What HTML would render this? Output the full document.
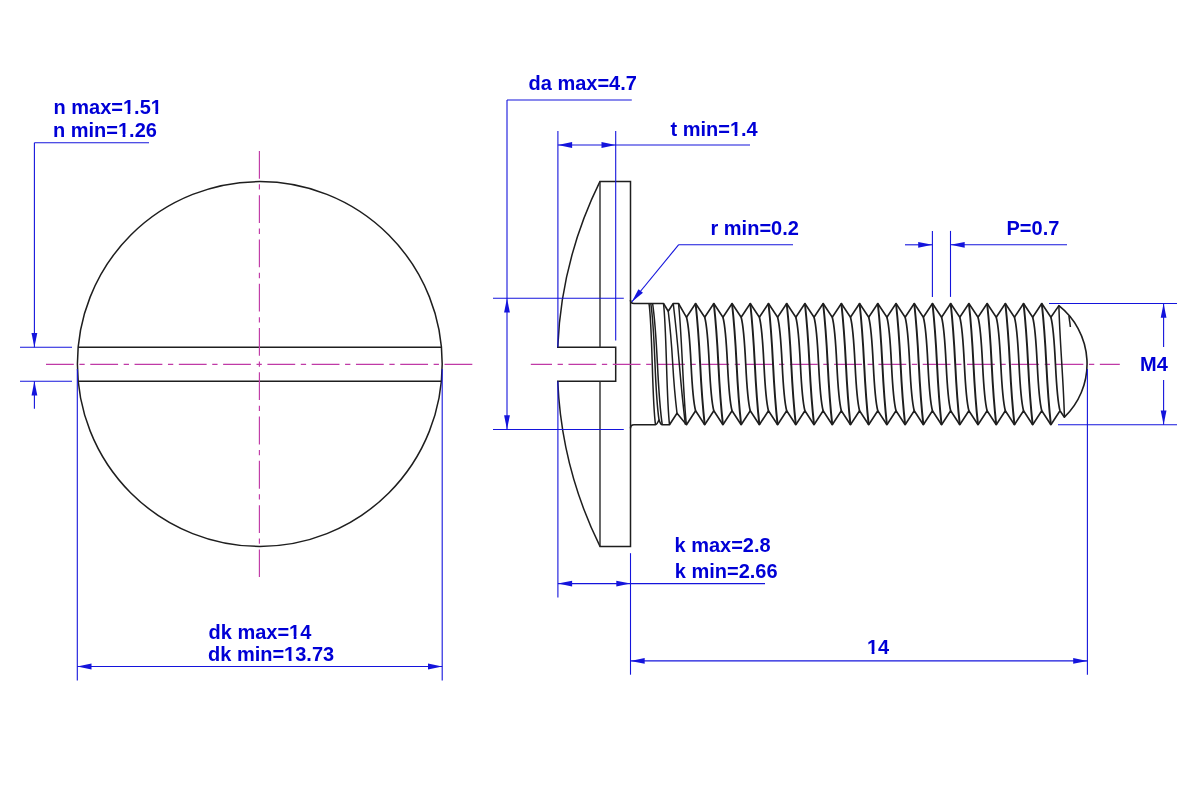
<!DOCTYPE html>
<html><head><meta charset="utf-8"><style>
html,body{margin:0;padding:0;background:#fff;width:1200px;height:800px;overflow:hidden}
svg{display:block;will-change:transform}
text{font-family:"Liberation Sans",sans-serif;font-weight:bold;font-size:20.8px;fill:#0000d6}
</style></head><body>
<svg width="1200" height="800" viewBox="0 0 1200 800">
<rect width="1200" height="800" fill="#fff"/>
<circle cx="259.8" cy="364.0" r="182.4" fill="none" stroke="#1e1e1e" stroke-width="1.5"/>
<line x1="78.18" y1="347.20" x2="441.42" y2="347.20" stroke="#1e1e1e" stroke-width="1.5" />
<line x1="78.22" y1="381.30" x2="441.38" y2="381.30" stroke="#1e1e1e" stroke-width="1.5" />
<line x1="46.00" y1="364.40" x2="472.80" y2="364.40" stroke="#c03aa6" stroke-width="1.15" stroke-dasharray="27.8 5.6 5.3 5.58" stroke-dashoffset="0.00"/>
<line x1="259.40" y1="150.90" x2="259.40" y2="577.10" stroke="#c03aa6" stroke-width="1.15" stroke-dasharray="27.8 5.6 5.3 5.58" stroke-dashoffset="0.00"/>
<line x1="20.00" y1="347.20" x2="72.00" y2="347.20" stroke="#1414dc" stroke-width="1.1" />
<line x1="20.00" y1="381.30" x2="72.00" y2="381.30" stroke="#1414dc" stroke-width="1.1" />
<line x1="34.40" y1="142.80" x2="34.40" y2="347.20" stroke="#1414dc" stroke-width="1.1" />
<path d="M34.40,347.20 L31.50,333.00 L37.30,333.00 Z" fill="#1414dc"/>
<line x1="34.40" y1="381.30" x2="34.40" y2="408.80" stroke="#1414dc" stroke-width="1.1" />
<path d="M34.40,381.30 L37.30,395.50 L31.50,395.50 Z" fill="#1414dc"/>
<line x1="34.40" y1="142.80" x2="149.00" y2="142.80" stroke="#1414dc" stroke-width="1.1" />
<g transform="translate(53.50,113.70) scale(0.962,1)"><text class="t" x="0" y="0" text-anchor="start">n max=1.51</text><rect x="72.60" y="-2.39" width="4.42" height="3.33" fill="#fff"/><rect x="79.88" y="-2.39" width="4.26" height="3.33" fill="#fff"/><rect x="101.49" y="-2.39" width="4.42" height="3.33" fill="#fff"/><rect x="108.77" y="-2.39" width="4.26" height="3.33" fill="#fff"/></g>
<g transform="translate(53.00,136.50) scale(0.962,1)"><text class="t" x="0" y="0" text-anchor="start">n min=1.26</text><rect x="67.95" y="-2.39" width="4.42" height="3.33" fill="#fff"/><rect x="75.23" y="-2.39" width="4.26" height="3.33" fill="#fff"/></g>
<line x1="77.30" y1="369.00" x2="77.30" y2="680.50" stroke="#1414dc" stroke-width="1.1" />
<line x1="442.20" y1="369.00" x2="442.20" y2="680.50" stroke="#1414dc" stroke-width="1.1" />
<line x1="77.30" y1="666.50" x2="442.20" y2="666.50" stroke="#1414dc" stroke-width="1.1" />
<path d="M77.30,666.50 L91.50,663.60 L91.50,669.40 Z" fill="#1414dc"/>
<path d="M442.20,666.50 L428.00,669.40 L428.00,663.60 Z" fill="#1414dc"/>
<g transform="translate(208.50,638.50) scale(0.962,1)"><text class="t" x="0" y="0" text-anchor="start">dk max=14</text><rect x="84.16" y="-2.39" width="4.42" height="3.33" fill="#fff"/><rect x="91.44" y="-2.39" width="4.26" height="3.33" fill="#fff"/></g>
<g transform="translate(208.00,661.30) scale(0.962,1)"><text class="t" x="0" y="0" text-anchor="start">dk min=13.73</text><rect x="79.51" y="-2.39" width="4.42" height="3.33" fill="#fff"/><rect x="86.79" y="-2.39" width="4.26" height="3.33" fill="#fff"/></g>
<path d="M600.00,181.4 L630.5,181.4 L630.5,546.4 L600.00,546.4 A412.2,412.2 0 0 1 557.76,381.3 L615.7,381.3 L615.7,347.2 L557.74,347.2 A412.2,412.2 0 0 1 600.00,181.4 Z" fill="none" stroke="#1e1e1e" stroke-width="1.5" stroke-linejoin="miter"/>
<line x1="600.00" y1="181.40" x2="600.00" y2="347.20" stroke="#2a2a2a" stroke-width="1.4" />
<line x1="600.00" y1="381.30" x2="600.00" y2="546.40" stroke="#2a2a2a" stroke-width="1.4" />
<line x1="530.80" y1="364.40" x2="1119.80" y2="364.40" stroke="#c03aa6" stroke-width="1.15" stroke-dasharray="27.8 5.6 5.3 5.58" stroke-dashoffset="6.60"/>
<path d="M630.5,300.0 Q630.5,303.5 634.0,303.5 L663.5,303.5 L668.25,311.25 L673.25,303.5 L678.5,303.5 L686.49,317.3 L695.60,303.5 L704.71,317.3 L713.82,303.5 L722.93,317.3 L732.04,303.5 L741.15,317.3 L750.26,303.5 L759.37,317.3 L768.48,303.5 L777.59,317.3 L786.70,303.5 L795.81,317.3 L804.92,303.5 L814.03,317.3 L823.14,303.5 L832.25,317.3 L841.36,303.5 L850.47,317.3 L859.58,303.5 L868.69,317.3 L877.80,303.5 L886.91,317.3 L896.02,303.5 L905.13,317.3 L914.24,303.5 L923.35,317.3 L932.46,303.5 L941.57,317.3 L950.68,303.5 L959.79,317.3 L968.90,303.5 L978.01,317.3 L987.12,303.5 L996.23,317.3 L1005.34,303.5 L1014.45,317.3 L1023.56,303.5 L1032.67,317.3 L1041.78,303.5 L1050.89,317.3 L1058.9,305.6 A74.25,74.25 0 0 1 1064.4,417.2 L1060.00,410.7 " fill="none" stroke="#1e1e1e" stroke-width="1.6" stroke-linejoin="round"/>
<path d="M630.5,428.2 Q630.5,424.7 634.0,424.7 L655.5,424.7 Q657,424.7 659,419.75 Q660.5,424.7 662.25,424.7 L669.5,424.7 L677.0,413.25 L686.49,424.7 L695.60,410.7 L704.71,424.7 L713.82,410.7 L722.93,424.7 L732.04,410.7 L741.15,424.7 L750.26,410.7 L759.37,424.7 L768.48,410.7 L777.59,424.7 L786.70,410.7 L795.81,424.7 L804.92,410.7 L814.03,424.7 L823.14,410.7 L832.25,424.7 L841.36,410.7 L850.47,424.7 L859.58,410.7 L868.69,424.7 L877.80,410.7 L886.91,424.7 L896.02,410.7 L905.13,424.7 L914.24,410.7 L923.35,424.7 L932.46,410.7 L941.57,424.7 L950.68,410.7 L959.79,424.7 L968.90,410.7 L978.01,424.7 L987.12,410.7 L996.23,424.7 L1005.34,410.7 L1014.45,424.7 L1023.56,410.7 L1032.67,424.7 L1041.78,410.7 L1050.89,424.7 L1060.00,410.7 " fill="none" stroke="#1e1e1e" stroke-width="1.6" stroke-linejoin="round"/>
<path d="M649.00,303.50 C652.58,327.37 651.92,400.83 655.50,424.70" fill="none" stroke="#1e1e1e" stroke-width="1.5"/>
<path d="M650.80,303.50 C655.64,335.77 654.16,387.48 659.00,419.75" fill="none" stroke="#1e1e1e" stroke-width="1.5"/>
<path d="M652.60,303.50 C657.99,339.40 656.87,388.80 662.25,424.70" fill="none" stroke="#1e1e1e" stroke-width="1.5"/>
<path d="M663.50,303.50 C666.65,329.77 666.35,398.43 669.50,424.70" fill="none" stroke="#1e1e1e" stroke-width="1.5"/>
<path d="M668.25,311.25 C673.76,357.15 671.49,367.35 677.00,413.25" fill="none" stroke="#1e1e1e" stroke-width="1.5"/>
<path d="M673.25,303.50 C679.79,358.04 678.86,370.16 685.40,424.70" fill="none" stroke="#1e1e1e" stroke-width="1.5"/>
<path d="M678.50,303.50 C681.65,329.79 683.25,398.41 686.40,424.70" fill="none" stroke="#1e1e1e" stroke-width="1.5"/>
<path d="M686.49,317.30 C691.90,336.60 690.19,391.40 695.60,410.70" fill="none" stroke="#1e1e1e" stroke-width="1.7"/>
<path d="M695.60,303.50 C701.19,354.33 699.12,373.87 704.71,424.70" fill="none" stroke="#1e1e1e" stroke-width="1.95"/>
<path d="M704.71,317.30 C710.12,336.60 708.41,391.40 713.82,410.70" fill="none" stroke="#1e1e1e" stroke-width="1.7"/>
<path d="M713.82,303.50 C719.41,354.33 717.34,373.87 722.93,424.70" fill="none" stroke="#1e1e1e" stroke-width="1.95"/>
<path d="M722.93,317.30 C728.34,336.60 726.63,391.40 732.04,410.70" fill="none" stroke="#1e1e1e" stroke-width="1.7"/>
<path d="M732.04,303.50 C737.63,354.33 735.56,373.87 741.15,424.70" fill="none" stroke="#1e1e1e" stroke-width="1.95"/>
<path d="M741.15,317.30 C746.56,336.60 744.85,391.40 750.26,410.70" fill="none" stroke="#1e1e1e" stroke-width="1.7"/>
<path d="M750.26,303.50 C755.85,354.33 753.78,373.87 759.37,424.70" fill="none" stroke="#1e1e1e" stroke-width="1.95"/>
<path d="M759.37,317.30 C764.78,336.60 763.07,391.40 768.48,410.70" fill="none" stroke="#1e1e1e" stroke-width="1.7"/>
<path d="M768.48,303.50 C774.07,354.33 772.00,373.87 777.59,424.70" fill="none" stroke="#1e1e1e" stroke-width="1.95"/>
<path d="M777.59,317.30 C783.00,336.60 781.29,391.40 786.70,410.70" fill="none" stroke="#1e1e1e" stroke-width="1.7"/>
<path d="M786.70,303.50 C792.29,354.33 790.22,373.87 795.81,424.70" fill="none" stroke="#1e1e1e" stroke-width="1.95"/>
<path d="M795.81,317.30 C801.22,336.60 799.51,391.40 804.92,410.70" fill="none" stroke="#1e1e1e" stroke-width="1.7"/>
<path d="M804.92,303.50 C810.51,354.33 808.44,373.87 814.03,424.70" fill="none" stroke="#1e1e1e" stroke-width="1.95"/>
<path d="M814.03,317.30 C819.44,336.60 817.73,391.40 823.14,410.70" fill="none" stroke="#1e1e1e" stroke-width="1.7"/>
<path d="M823.14,303.50 C828.73,354.33 826.66,373.87 832.25,424.70" fill="none" stroke="#1e1e1e" stroke-width="1.95"/>
<path d="M832.25,317.30 C837.66,336.60 835.95,391.40 841.36,410.70" fill="none" stroke="#1e1e1e" stroke-width="1.7"/>
<path d="M841.36,303.50 C846.95,354.33 844.88,373.87 850.47,424.70" fill="none" stroke="#1e1e1e" stroke-width="1.95"/>
<path d="M850.47,317.30 C855.88,336.60 854.17,391.40 859.58,410.70" fill="none" stroke="#1e1e1e" stroke-width="1.7"/>
<path d="M859.58,303.50 C865.17,354.33 863.10,373.87 868.69,424.70" fill="none" stroke="#1e1e1e" stroke-width="1.95"/>
<path d="M868.69,317.30 C874.10,336.60 872.39,391.40 877.80,410.70" fill="none" stroke="#1e1e1e" stroke-width="1.7"/>
<path d="M877.80,303.50 C883.39,354.33 881.32,373.87 886.91,424.70" fill="none" stroke="#1e1e1e" stroke-width="1.95"/>
<path d="M886.91,317.30 C892.32,336.60 890.61,391.40 896.02,410.70" fill="none" stroke="#1e1e1e" stroke-width="1.7"/>
<path d="M896.02,303.50 C901.61,354.33 899.54,373.87 905.13,424.70" fill="none" stroke="#1e1e1e" stroke-width="1.95"/>
<path d="M905.13,317.30 C910.54,336.60 908.83,391.40 914.24,410.70" fill="none" stroke="#1e1e1e" stroke-width="1.7"/>
<path d="M914.24,303.50 C919.83,354.33 917.76,373.87 923.35,424.70" fill="none" stroke="#1e1e1e" stroke-width="1.95"/>
<path d="M923.35,317.30 C928.76,336.60 927.05,391.40 932.46,410.70" fill="none" stroke="#1e1e1e" stroke-width="1.7"/>
<path d="M932.46,303.50 C938.05,354.33 935.98,373.87 941.57,424.70" fill="none" stroke="#1e1e1e" stroke-width="1.95"/>
<path d="M941.57,317.30 C946.98,336.60 945.27,391.40 950.68,410.70" fill="none" stroke="#1e1e1e" stroke-width="1.7"/>
<path d="M950.68,303.50 C956.27,354.33 954.20,373.87 959.79,424.70" fill="none" stroke="#1e1e1e" stroke-width="1.95"/>
<path d="M959.79,317.30 C965.20,336.60 963.49,391.40 968.90,410.70" fill="none" stroke="#1e1e1e" stroke-width="1.7"/>
<path d="M968.90,303.50 C974.49,354.33 972.42,373.87 978.01,424.70" fill="none" stroke="#1e1e1e" stroke-width="1.95"/>
<path d="M978.01,317.30 C983.42,336.60 981.71,391.40 987.12,410.70" fill="none" stroke="#1e1e1e" stroke-width="1.7"/>
<path d="M987.12,303.50 C992.71,354.33 990.64,373.87 996.23,424.70" fill="none" stroke="#1e1e1e" stroke-width="1.95"/>
<path d="M996.23,317.30 C1001.64,336.60 999.93,391.40 1005.34,410.70" fill="none" stroke="#1e1e1e" stroke-width="1.7"/>
<path d="M1005.34,303.50 C1010.93,354.33 1008.86,373.87 1014.45,424.70" fill="none" stroke="#1e1e1e" stroke-width="1.95"/>
<path d="M1014.45,317.30 C1019.86,336.60 1018.15,391.40 1023.56,410.70" fill="none" stroke="#1e1e1e" stroke-width="1.7"/>
<path d="M1023.56,303.50 C1029.15,354.33 1027.08,373.87 1032.67,424.70" fill="none" stroke="#1e1e1e" stroke-width="1.95"/>
<path d="M1032.67,317.30 C1038.08,336.60 1036.37,391.40 1041.78,410.70" fill="none" stroke="#1e1e1e" stroke-width="1.7"/>
<path d="M1041.78,303.50 C1047.37,354.33 1045.30,373.87 1050.89,424.70" fill="none" stroke="#1e1e1e" stroke-width="1.95"/>
<path d="M1050.89,317.30 C1056.30,336.60 1054.59,391.40 1060.00,410.70" fill="none" stroke="#1e1e1e" stroke-width="1.7"/>
<path d="M1058.90,305.60 C1059.57,339.08 1063.73,383.72 1064.40,417.20" fill="none" stroke="#1e1e1e" stroke-width="1.5"/>
<path d="M1068.9,315.8 L1070.4,327" fill="none" stroke="#1e1e1e" stroke-width="1.5"/>
<line x1="493.00" y1="298.20" x2="623.80" y2="298.20" stroke="#1414dc" stroke-width="1.1" />
<line x1="493.00" y1="429.50" x2="623.80" y2="429.50" stroke="#1414dc" stroke-width="1.1" />
<line x1="507.00" y1="100.00" x2="507.00" y2="429.50" stroke="#1414dc" stroke-width="1.1" />
<path d="M507.00,298.20 L509.90,312.40 L504.10,312.40 Z" fill="#1414dc"/>
<path d="M507.00,429.50 L504.10,415.30 L509.90,415.30 Z" fill="#1414dc"/>
<line x1="507.00" y1="100.00" x2="631.80" y2="100.00" stroke="#1414dc" stroke-width="1.1" />
<g transform="translate(528.50,89.50) scale(0.962,1)"><text class="t" x="0" y="0" text-anchor="start">da max=4.7</text></g>
<line x1="557.90" y1="131.00" x2="557.90" y2="347.20" stroke="#1414dc" stroke-width="1.1" />
<line x1="557.90" y1="381.30" x2="557.90" y2="597.50" stroke="#1414dc" stroke-width="1.1" />
<line x1="615.70" y1="131.00" x2="615.70" y2="340.50" stroke="#1414dc" stroke-width="1.1" />
<line x1="557.90" y1="145.00" x2="750.00" y2="145.00" stroke="#1414dc" stroke-width="1.1" />
<path d="M557.90,145.00 L572.10,142.10 L572.10,147.90 Z" fill="#1414dc"/>
<path d="M615.70,145.00 L601.50,147.90 L601.50,142.10 Z" fill="#1414dc"/>
<g transform="translate(670.50,135.50) scale(0.962,1)"><text class="t" x="0" y="0" text-anchor="start">t min=1.4</text><rect x="62.19" y="-2.39" width="4.42" height="3.33" fill="#fff"/><rect x="69.47" y="-2.39" width="4.26" height="3.33" fill="#fff"/></g>
<line x1="631.70" y1="302.00" x2="678.70" y2="244.70" stroke="#1414dc" stroke-width="1.1" />
<line x1="678.70" y1="244.70" x2="793.00" y2="244.70" stroke="#1414dc" stroke-width="1.1" />
<path d="M631.70,302.00 L638.46,289.18 L642.95,292.86 Z" fill="#1414dc"/>
<g transform="translate(710.50,234.70) scale(0.962,1)"><text class="t" x="0" y="0" text-anchor="start">r min=0.2</text></g>
<line x1="932.40" y1="230.90" x2="932.40" y2="296.90" stroke="#1414dc" stroke-width="1.1" />
<line x1="950.50" y1="230.90" x2="950.50" y2="296.90" stroke="#1414dc" stroke-width="1.1" />
<line x1="905.00" y1="244.80" x2="932.40" y2="244.80" stroke="#1414dc" stroke-width="1.1" />
<line x1="950.50" y1="244.80" x2="1067.00" y2="244.80" stroke="#1414dc" stroke-width="1.1" />
<path d="M932.40,244.80 L918.20,247.70 L918.20,241.90 Z" fill="#1414dc"/>
<path d="M950.50,244.80 L964.70,241.90 L964.70,247.70 Z" fill="#1414dc"/>
<g transform="translate(1006.50,234.50) scale(0.962,1)"><text class="t" x="0" y="0" text-anchor="start">P=0.7</text></g>
<line x1="1049.00" y1="303.50" x2="1177.00" y2="303.50" stroke="#1414dc" stroke-width="1.1" />
<line x1="1058.00" y1="424.80" x2="1177.00" y2="424.80" stroke="#1414dc" stroke-width="1.1" />
<line x1="1163.60" y1="303.50" x2="1163.60" y2="347.00" stroke="#1414dc" stroke-width="1.1" />
<line x1="1163.60" y1="380.00" x2="1163.60" y2="424.80" stroke="#1414dc" stroke-width="1.1" />
<path d="M1163.60,303.50 L1166.50,317.70 L1160.70,317.70 Z" fill="#1414dc"/>
<path d="M1163.60,424.80 L1160.70,410.60 L1166.50,410.60 Z" fill="#1414dc"/>
<g transform="translate(1140.00,371.00) scale(0.962,1)"><text class="t" x="0" y="0" text-anchor="start">M4</text></g>
<line x1="630.50" y1="553.20" x2="630.50" y2="674.70" stroke="#1414dc" stroke-width="1.1" />
<line x1="557.90" y1="583.60" x2="765.00" y2="583.60" stroke="#1414dc" stroke-width="1.1" />
<path d="M557.90,583.60 L572.10,580.70 L572.10,586.50 Z" fill="#1414dc"/>
<path d="M630.50,583.60 L616.30,586.50 L616.30,580.70 Z" fill="#1414dc"/>
<g transform="translate(674.50,551.50) scale(0.962,1)"><text class="t" x="0" y="0" text-anchor="start">k max=2.8</text></g>
<g transform="translate(674.80,577.50) scale(0.962,1)"><text class="t" x="0" y="0" text-anchor="start">k min=2.66</text></g>
<line x1="1087.40" y1="369.00" x2="1087.40" y2="674.70" stroke="#1414dc" stroke-width="1.1" />
<line x1="630.50" y1="660.90" x2="1087.40" y2="660.90" stroke="#1414dc" stroke-width="1.1" />
<path d="M630.50,660.90 L644.70,658.00 L644.70,663.80 Z" fill="#1414dc"/>
<path d="M1087.40,660.90 L1073.20,663.80 L1073.20,658.00 Z" fill="#1414dc"/>
<g transform="translate(867.00,653.70) scale(0.962,1)"><text class="t" x="0" y="0" text-anchor="start">14</text><rect x="0.42" y="-2.39" width="4.42" height="3.33" fill="#fff"/><rect x="7.70" y="-2.39" width="4.26" height="3.33" fill="#fff"/></g>
</svg>
</body></html>
